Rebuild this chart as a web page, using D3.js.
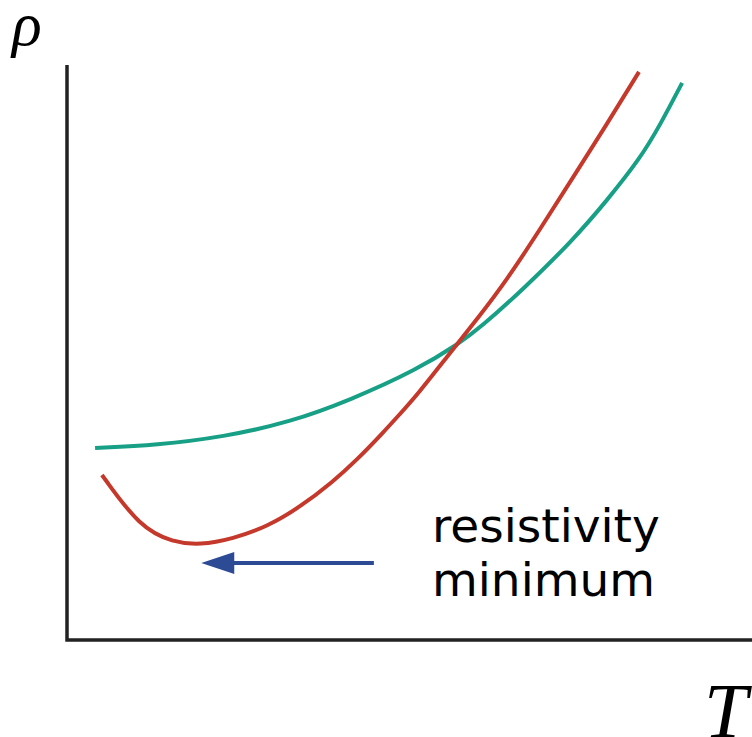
<!DOCTYPE html>
<html lang="en">
  <head>
    <meta charset="UTF-8" />
    <title>Resistivity minimum</title>
    <script src="https://d3js.org/d3.v7.min.js"></script>
    <style>
      body {
        margin: 0;
        background: white;
      }
    </style>
  </head>
  <body>
    <script>
      // Data (arbitrary units): temperature T and resistivity rho
      const greenT = [4.1, 13.1, 22.8, 32.6, 41.3, 51.1, 57.4, 60.3, 66.6, 73.9, 78.8, 83.7, 86.6, 89.8];
      const greenRho = [33.4, 33.9, 35.3, 37.9, 41.7, 47.0, 51.7, 54.3, 61.0, 69.6, 76.4, 83.8, 89.6, 96.9];
      const redT = [5.1, 10.7, 15.5, 19.4, 24.2, 29.2, 34.0, 38.8, 42.3, 46.1, 48.6, 51.1, 55.9, 60.0, 64.2, 69.1, 73.9, 78.8, 83.5];
      const redRho = [28.7, 19.5, 17.0, 16.5, 17.6, 19.7, 23.1, 27.5, 31.3, 36.0, 39.3, 42.6, 49.9, 56.0, 62.6, 71.5, 80.5, 89.7, 98.8];
      const arrowT = [44.8, 19.6]; // from, to
      const arrowRho = 13.4;

      const width = 752;
      const height = 737;
      const svg = d3
        .select("body")
        .append("svg")
        .attr("width", width)
        .attr("height", height);

      const x = d3.scaleLinear().domain([0, 100]).range([67, 752]);
      const y = d3.scaleLinear().domain([0, 100]).range([640, 65]);

      // axes
      svg
        .append("path")
        .attr("d", `M${x(0)},${y(100)}V${y(0)}H${x(100)}`)
        .attr("fill", "none")
        .attr("stroke", "#222")
        .attr("stroke-width", 3.5);

      // basis spline smooths out the reading noise
      const line = d3
        .line()
        .x((d) => x(d[0]))
        .y((d) => y(d[1]))
        .curve(d3.curveBasis);

      svg
        .append("path")
        .attr("d", line(d3.zip(greenT, greenRho)))
        .attr("fill", "none")
        .attr("stroke", "#17a085")
        .attr("stroke-width", 4);

      svg
        .append("path")
        .attr("d", line(d3.zip(redT, redRho)))
        .attr("fill", "none")
        .attr("stroke", "#c4392b")
        .attr("stroke-width", 4);

      // arrow
      const ay = y(arrowRho);
      const tip = x(arrowT[1]);
      svg
        .append("line")
        .attr("x1", x(arrowT[0]))
        .attr("x2", tip + 25)
        .attr("y1", ay)
        .attr("y2", ay)
        .attr("stroke", "#2d4a94")
        .attr("stroke-width", 4);
      svg
        .append("path")
        .attr("d", `M${tip},${ay}L${tip + 33},${ay - 11}L${tip + 33},${ay + 11}Z`)
        .attr("fill", "#2d4a94");

      // labels
      const note = svg
        .append("text")
        .attr("font-family", "DejaVu Sans")
        .attr("font-size", 47)
        .attr("fill", "#000");
      note.append("tspan").attr("x", 432).attr("y", 542).text("resistivity");
      note.append("tspan").attr("x", 432).attr("y", 596).text("minimum");

      svg
        .append("text")
        .attr("x", 12)
        .attr("y", 45)
        .attr("font-family", "Liberation Serif")
        .attr("font-style", "italic")
        .attr("font-size", 62)
        .text("ρ");

      svg
        .append("text")
        .attr("x", 704)
        .attr("y", 737)
        .attr("font-family", "Liberation Serif")
        .attr("font-style", "italic")
        .attr("font-size", 78)
        .text("T");
    </script>
  </body>
</html>
